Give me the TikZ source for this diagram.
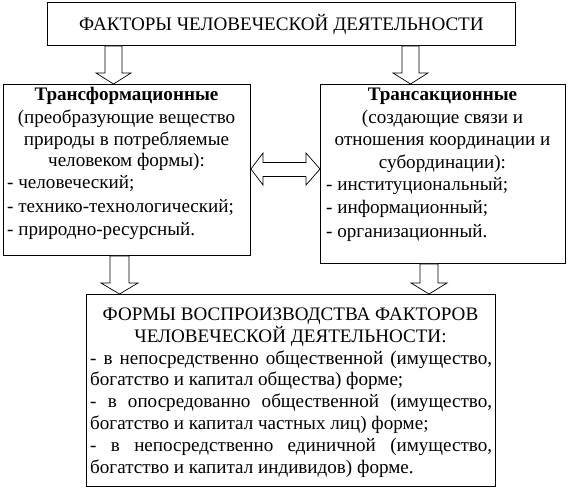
\documentclass[tikz,border=0pt]{standalone}
\usepackage{fontspec}
\newfontfamily\tnr{LiberationSerif}[Extension=.ttf, UprightFont=*-Regular, BoldFont=*-Bold]
\begin{document}
\begin{tikzpicture}[x=1pt,y=-1pt,
  font=\tnr\fontsize{19.1}{22}\selectfont,
  box/.style={draw, line width=0.9pt, anchor=north west, inner sep=0pt},
  blk/.style={draw, fill=white, line width=0.7pt, line join=miter},
  ctr/.style={anchor=base, inner sep=0pt},
  lft/.style={anchor=base west, inner sep=0pt}]
\useasboundingbox (0,0) rectangle (569,488);
% boxes
\node[box, minimum width=468, minimum height=43] (top) at (47,2) {};
\node[box, minimum width=247, minimum height=171] (L) at (3,84) {};
\node[box, minimum width=245, minimum height=179] (R) at (320,84) {};
\node[box, minimum width=409, minimum height=192] (B) at (86,294) {};
% title
\node[inner sep=0pt] (toptxt) at (top.center) {ФАКТОРЫ ЧЕЛОВЕЧЕСКОЙ ДЕЯТЕЛЬНОСТИ};
% left box text
\node[ctr] (L1) at (126.5,100) {\textbf{Трансформационные}};
\node[ctr] (L2) at (126.5,123) {(преобразующие вещество};
\node[ctr] (L3) at (126.5,145) {природы в потребляемые};
\node[ctr] (L4) at (126.5,166) {человеком формы):};
\node[lft] (L5) at (7,188) {- человеческий;};
\node[lft] (L6) at (7,212) {- технико-технологический;};
\node[lft] (L7) at (7,235) {- природно-ресурсный.};
% right box text
\node[ctr] (R1) at (442.5,100) {\textbf{Трансакционные}};
\node[ctr] (R2) at (442.5,123) {(создающие связи и};
\node[ctr] (R3) at (442.5,145) {отношения координации и};
\node[ctr] (R4) at (442.5,168) {субординации):};
\node[lft] (R5) at (326,190) {- институциональный;};
\node[lft] (R6) at (326,213) {- информационный;};
\node[lft] (R7) at (326,237) {- организационный.};
% bottom box text
\node[ctr] (B1) at (290.5,320) {ФОРМЫ ВОСПРОИЗВОДСТВА ФАКТОРОВ};
\node[ctr] (B2) at (290.5,342) {ЧЕЛОВЕЧЕСКОЙ ДЕЯТЕЛЬНОСТИ:};
\node[lft] (B3) at (90,364) {\makebox[402pt][s]{- в непосредственно общественной (имущество,}};
\node[lft] (B4) at (90,385) {богатство и капитал общества) форме;};
\node[lft] (B5) at (90,407) {\makebox[402pt][s]{- в опосредованно общественной (имущество,}};
\node[lft] (B6) at (90,429) {богатство и капитал частных лиц) форме;};
\node[lft] (B7) at (90,451) {\makebox[402pt][s]{- в непосредственно единичной (имущество,}};
\node[lft] (B8) at (90,473) {богатство и капитал индивидов) форме.};
% block arrows
\draw[blk] (105,0 |- top.south) -- (105,73) -- (96,73) -- (113.5,0 |- L.north)
  -- (131,73) -- (122,73) -- (122,0 |- top.south) -- cycle;
\draw[blk] (402,0 |- top.south) -- (402,73) -- (393,73) -- (410.5,0 |- R.north)
  -- (428,73) -- (419,73) -- (419,0 |- top.south) -- cycle;
\draw[blk] (110,0 |- L.south) -- (110,283) -- (101,283) -- (119.5,0 |- B.north)
  -- (138,283) -- (129,283) -- (129,0 |- L.south) -- cycle;
\draw[blk] (420,0 |- R.south) -- (420,283) -- (411,283) -- (429,0 |- B.north)
  -- (447,283) -- (438,283) -- (438,0 |- R.south) -- cycle;
\draw[blk] (L.east |- 0,169) -- (263,153) -- (263,162.5) -- (306,162.5) -- (306,153)
  -- (R.west |- 0,169) -- (306,185) -- (306,176.5) -- (263,176.5) -- (263,185) -- cycle;
\end{tikzpicture}
\end{document}
